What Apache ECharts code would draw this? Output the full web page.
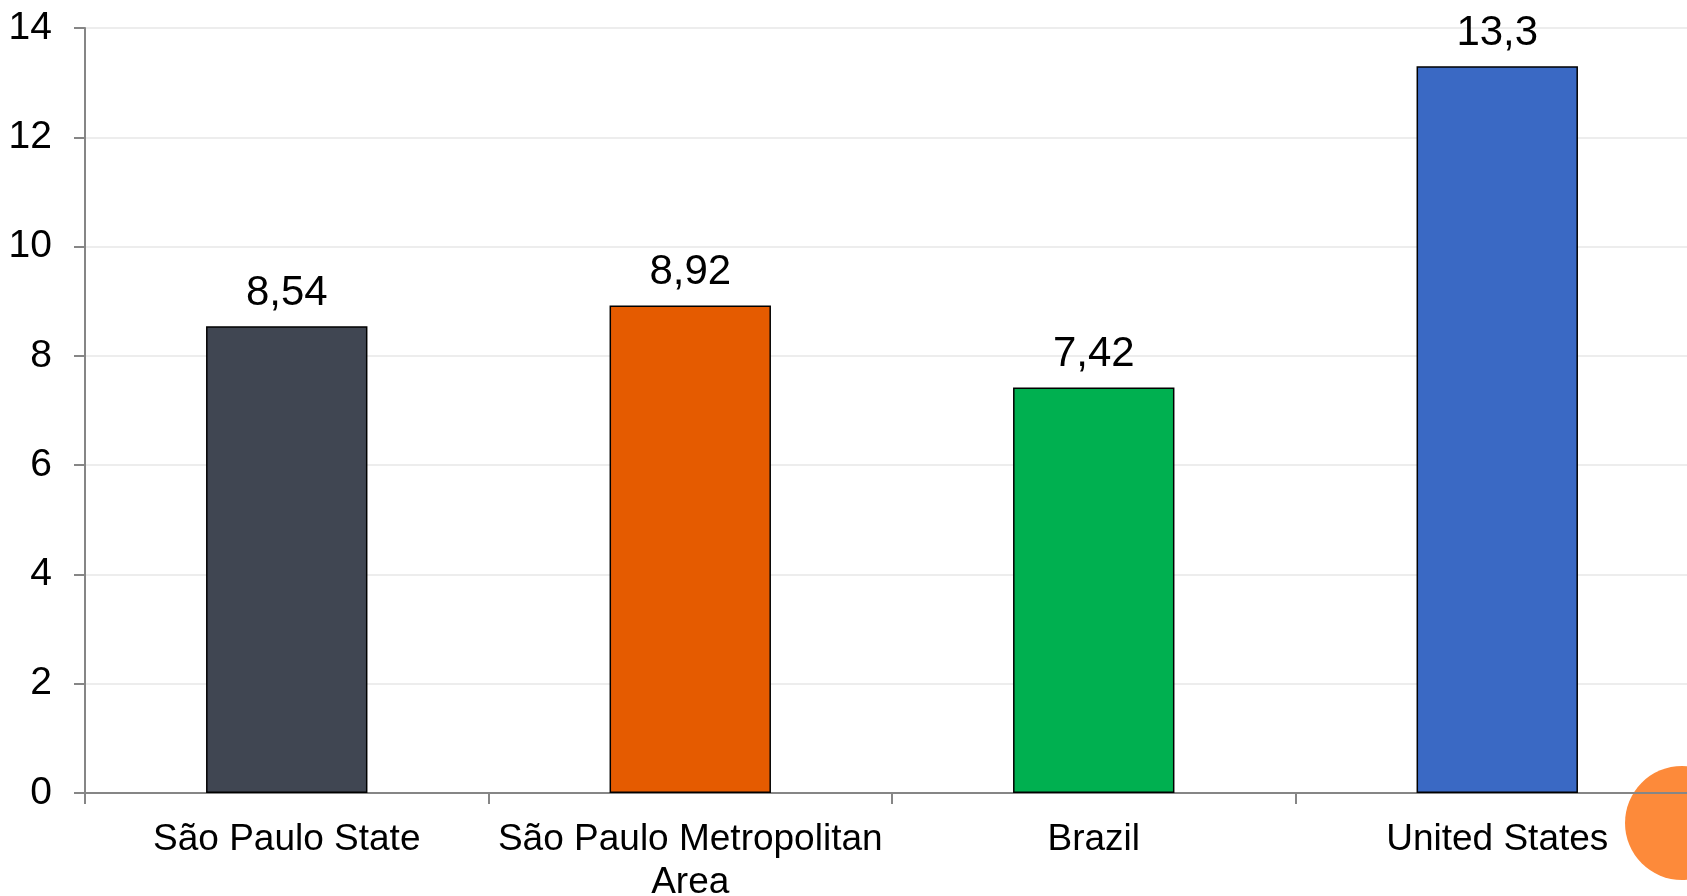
<!DOCTYPE html>
<html>
<head>
<meta charset="utf-8">
<script src="https://cdn.jsdelivr.net/npm/echarts@6/dist/echarts.min.js"></script>
<style>
html,body{margin:0;padding:0;background:#fff;}
#chart{width:1687px;height:896px;}
</style>
</head>
<body>
<div id="chart"></div>
<script>
const categories = ["São Paulo State", "São Paulo Metropolitan\nArea", "Brazil", "United States"];
const values = [8.54, 8.92, 7.42, 13.3];
const valueLabels = ["8,54", "8,92", "7,42", "13,3"];
const barColors = ["#404652", "#E55B00", "#00B050", "#3A69C4"];
const yTicks = { min: 0, max: 14, interval: 2 };

const FONT = "'Liberation Sans', Arial, sans-serif";
const chart = echarts.init(document.getElementById('chart'));
chart.setOption({
  animation: false,
  backgroundColor: '#ffffff',
  grid: { left: 85, width: 1614, top: 28, height: 765, containLabel: false, outerBoundsMode: 'none' },
  xAxis: {
    type: 'category',
    data: categories,
    axisLine: { lineStyle: { color: '#868686', width: 2 } },
    axisTick: { show: true, length: 11, lineStyle: { color: '#868686', width: 2 } },
    axisLabel: { color: '#000', fontFamily: FONT, fontSize: 37, lineHeight: 43, margin: 25, interval: 0 }
  },
  yAxis: {
    type: 'value',
    min: yTicks.min, max: yTicks.max, interval: yTicks.interval,
    axisLine: { show: true, lineStyle: { color: '#868686', width: 2 } },
    axisTick: { show: true, length: 11, lineStyle: { color: '#868686', width: 2 } },
    splitLine: { lineStyle: { color: '#EDEDED', width: 2 } },
    axisLabel: { color: '#000', fontFamily: FONT, fontSize: 39, margin: 33 }
  },
  series: [{
    type: 'bar',
    barWidth: '40%',
    data: values.map((v, i) => ({
      value: v,
      itemStyle: { color: barColors[i], borderColor: '#000', borderWidth: 1.5 }
    })),
    label: {
      show: true, position: 'top', distance: 12,
      color: '#000', fontFamily: FONT, fontSize: 42,
      formatter: p => valueLabels[p.dataIndex]
    }
  }],
  graphic: [{
    type: 'circle',
    z: -1,
    shape: { cx: 1682, cy: 823, r: 57 },
    style: { fill: '#FD8A3A' }
  }]
});
</script>
</body>
</html>
